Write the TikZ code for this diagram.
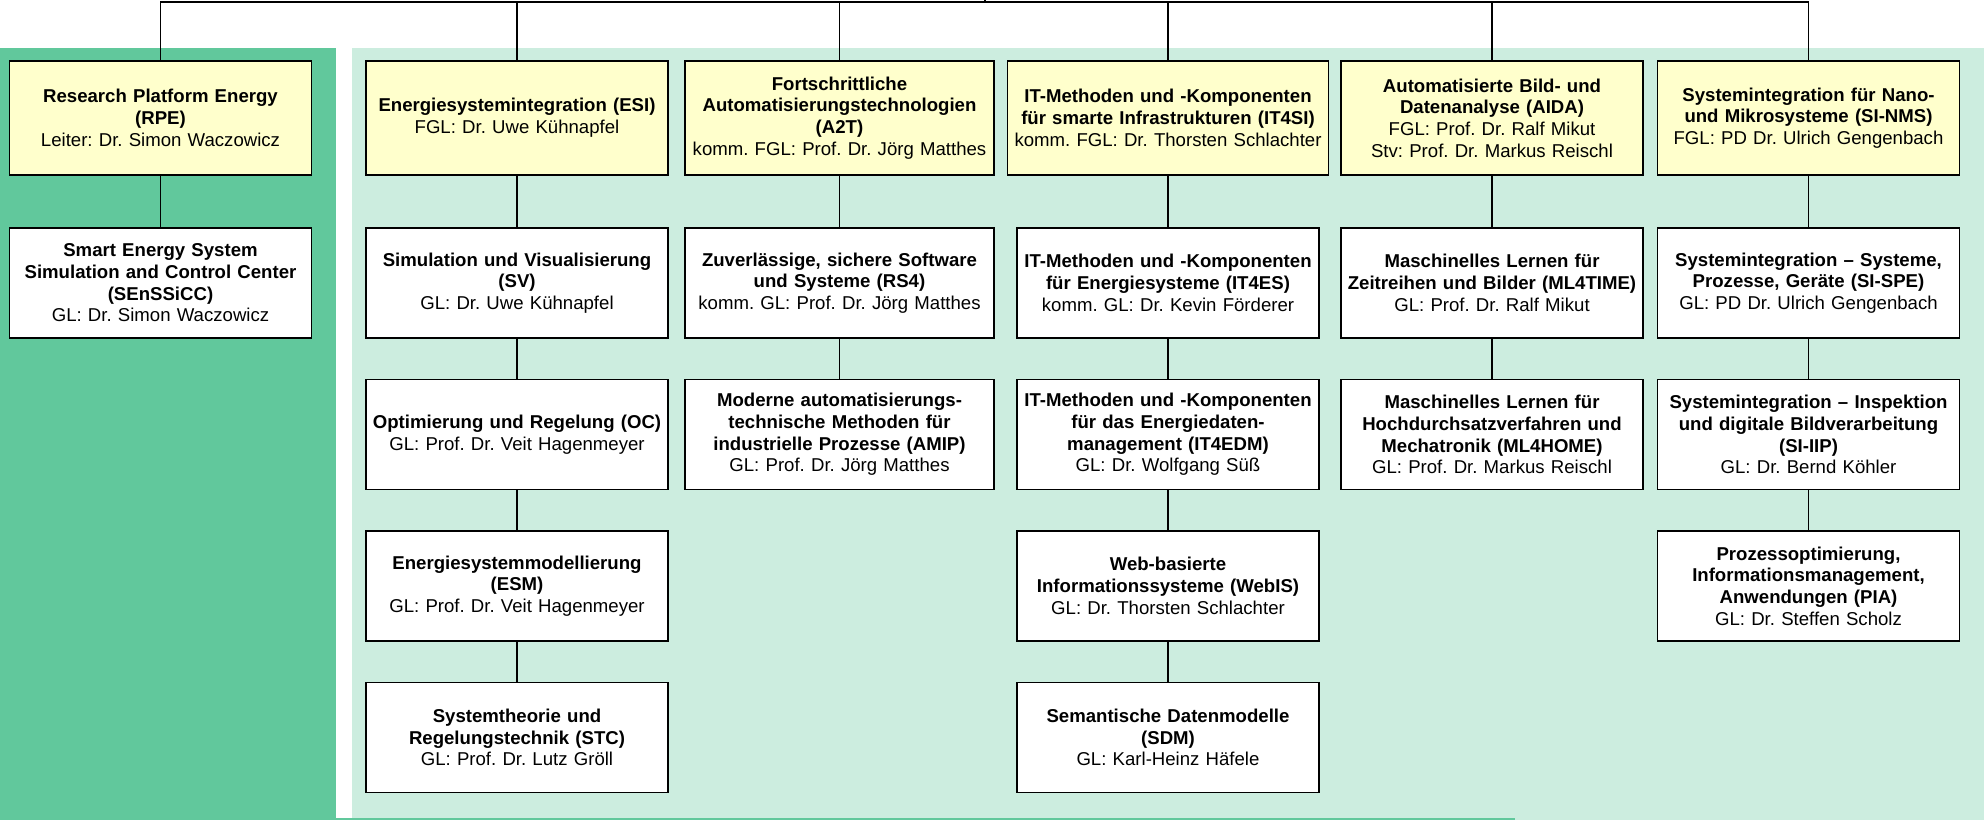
\documentclass[tikz,border=0pt]{standalone}
\usepackage{fontspec}
\setmainfont{Liberation Sans}
\usetikzlibrary{positioning}
\definecolor{panelgreen}{HTML}{61C89C}
\definecolor{palegreen}{HTML}{CCEDDF}
\definecolor{headyellow}{HTML}{FFFFCC}
\frenchspacing

\begin{document}
\begin{tikzpicture}[x=1pt,y=-1pt,node distance=151.5pt,
        unit node/.style={rectangle,draw,line width=1.5pt,fill=white,align=center,
          text width=#1,minimum height=110pt,inner xsep=2pt,inner ysep=1pt,
          font=\fontsize{18.6}{21.7}\selectfont},
        unit node/.default=298pt,
        head node/.style={unit node=#1,fill=headyellow,minimum height=114pt},
        head node/.default=298pt,
        link/.style={line width=1.3pt}]
        \useasboundingbox (0,0) rectangle (1984,820);
        \fill[panelgreen] (0,48) rectangle (336,820);
        \fill[palegreen] (352,48) rectangle (1984,820);
        \fill[panelgreen] (336,818) rectangle (1515,820);

        \node[head node] (rpe) at (160.5,118) {\textbf{Research Platform Energy\\(RPE)}\\Leiter: Dr. Simon Waczowicz};
        \node[unit node] (sesscc) [node distance=165pt,below of=rpe] {\textbf{Smart Energy System\\Simulation and Control Center\\(SEnSSiCC)}\\GL: Dr. Simon Waczowicz};

        \node[head node] (esi) at (517,118) {\textbf{Energiesystemintegration (ESI)}\\FGL: Dr. Uwe Kühnapfel};
        \node[unit node] (sv) [node distance=165pt,below of=esi] {\textbf{Simulation und Visualisierung\\(SV)}\\GL: Dr. Uwe Kühnapfel};
        \node[unit node] (oc) [below of=sv] {\textbf{Optimierung und Regelung (OC)}\\GL: Prof. Dr. Veit Hagenmeyer};
        \node[unit node] (esm) [below of=oc] {\textbf{Energiesystemmodellierung\\(ESM)}\\GL: Prof. Dr. Veit Hagenmeyer};
        \node[unit node] (stc) [below of=esm] {\textbf{Systemtheorie und\\Regelungstechnik (STC)}\\GL: Prof. Dr. Lutz Gröll};

        \node[head node=305pt] (a2t) at (839.5,118) {\textbf{Fortschrittliche\\Automatisierungstechnologien\\(A2T)}\\komm. FGL: Prof. Dr. Jörg Matthes};
        \node[unit node=305pt] (rs4) [node distance=165pt,below of=a2t] {\textbf{Zuverlässige, sichere Software\\und Systeme (RS4)}\\komm. GL: Prof. Dr. Jörg Matthes};
        \node[unit node=305pt] (amip) [below of=rs4] {\textbf{Moderne automatisierungs-\\technische Methoden für\\industrielle Prozesse (AMIP)}\\GL: Prof. Dr. Jörg Matthes};

        \node[head node=317pt] (it4si) at (1168,118) {\textbf{IT-Methoden und -Komponenten\\für smarte Infrastrukturen (IT4SI)}\\komm. FGL: Dr. Thorsten Schlachter};
        \node[unit node] (it4es) [node distance=165pt,below of=it4si] {\textbf{IT-Methoden und -Komponenten\\für Energiesysteme (IT4ES)}\\komm. GL: Dr. Kevin Förderer};
        \node[unit node] (it4edm) [below of=it4es] {\textbf{IT-Methoden und -Komponenten\\für das Energiedaten-\\management (IT4EDM)}\\GL: Dr. Wolfgang Süß};
        \node[unit node] (webis) [below of=it4edm] {\textbf{Web-basierte\\Informationssysteme (WebIS)}\\GL: Dr. Thorsten Schlachter};
        \node[unit node] (sdm) [below of=webis] {\textbf{Semantische Datenmodelle\\(SDM)}\\GL: Karl-Heinz Häfele};

        \node[head node] (aida) at (1492,118) {\textbf{Automatisierte Bild- und\\Datenanalyse (AIDA)}\\FGL: Prof. Dr. Ralf Mikut\\Stv: Prof. Dr. Markus Reischl};
        \node[unit node] (ml4time) [node distance=165pt,below of=aida] {\textbf{Maschinelles Lernen für\\Zeitreihen und Bilder (ML4TIME)}\\GL: Prof. Dr. Ralf Mikut};
        \node[unit node] (ml4home) [below of=ml4time] {\textbf{Maschinelles Lernen für\\Hochdurchsatzverfahren und\\Mechatronik (ML4HOME)}\\GL: Prof. Dr. Markus Reischl};

        \node[head node] (sinms) at (1808.5,118) {\textbf{Systemintegration für Nano-\\und Mikrosysteme (SI-NMS)}\\FGL: PD Dr. Ulrich Gengenbach};
        \node[unit node] (sispe) [node distance=165pt,below of=sinms] {\textbf{Systemintegration – Systeme,\\Prozesse, Geräte (SI-SPE)}\\GL: PD Dr. Ulrich Gengenbach};
        \node[unit node] (siiip) [below of=sispe] {\textbf{Systemintegration – Inspektion\\und digitale Bildverarbeitung\\(SI-IIP)}\\GL: Dr. Bernd Köhler};
        \node[unit node] (pia) [below of=siiip] {\textbf{Prozessoptimierung,\\Informationsmanagement,\\Anwendungen (PIA)}\\GL: Dr. Steffen Scholz};

        \coordinate (bus) at (0,2);
        \coordinate (root) at (985,0);
        \draw[link] (root) -- (root |- bus);
        \draw[link] (rpe.north) |- (sinms.north |- bus) -- (sinms.north);
        \foreach \n in {esi,a2t,it4si,aida}
          \draw[link] (\n.north) -- (\n.north |- bus);

        \path[link]
        (rpe) edge (sesscc)
        (esi) edge (sv)
        (sv) edge (oc)
        (oc) edge (esm)
        (esm) edge (stc)
        (a2t) edge (rs4)
        (rs4) edge (amip)
        (it4si) edge (it4es)
        (it4es) edge (it4edm)
        (it4edm) edge (webis)
        (webis) edge (sdm)
        (aida) edge (ml4time)
        (ml4time) edge (ml4home)
        (sinms) edge (sispe)
        (sispe) edge (siiip)
        (siiip) edge (pia)
        ;
\end{tikzpicture}
\end{document}
